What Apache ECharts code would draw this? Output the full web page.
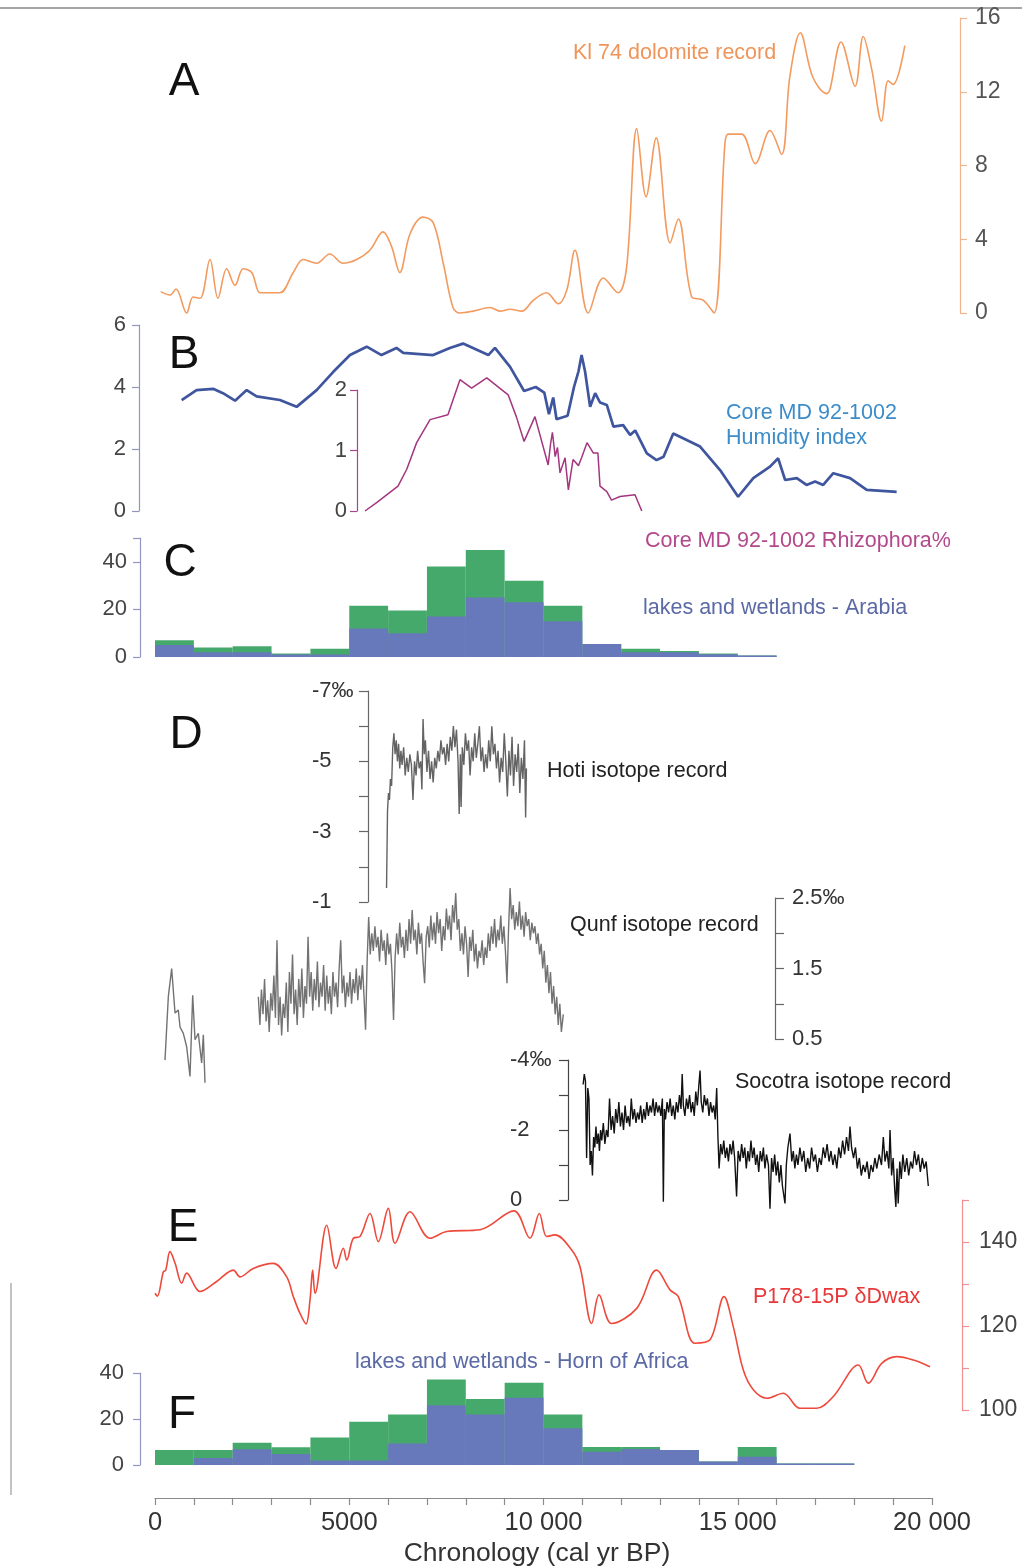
<!DOCTYPE html>
<html><head><meta charset="utf-8">
<script src="https://cdn.jsdelivr.net/npm/echarts@6/dist/echarts.min.js"></script>
<style>html,body{margin:0;padding:0;background:#fff}#c{width:1022px;height:1566px}</style>
</head><body><div id="c"></div>
<script>
// ---------- DATA ----------
const dolomite = [[147,1.16],[386,0.98],[540,1.3],[815,0.0],[980,0.87],[1160,0.8],[1415,2.9],[1620,0.8],[1845,2.4],[2060,1.5],[2270,2.4],[2490,2.2],[2700,1.1],[2875,1.1],[3215,1.1],[3560,2.2],[3815,2.9],[4160,2.7],[4500,3.2],[4840,2.7],[5190,2.9],[5530,3.4],[5870,4.4],[6090,3.6],[6300,2.2],[6565,4.3],[6900,5.2],[7160,4.9],[7420,2.7],[7670,0.3],[7850,0.0],[8190,0.1],[8620,0.3],[8880,0.1],[9140,0.2],[9440,0.1],[9740,0.7],[10080,1.1],[10380,0.5],[10600,1.25],[10810,3.4],[11150,0.0],[11540,1.9],[11920,1.1],[12140,2.5],[12400,10.0],[12640,6.3],[12900,9.5],[13260,3.8],[13470,5.1],[13810,0.9],[14110,0.7],[14390,0.0],[14670,9.2],[14760,9.7],[15100,9.7],[15450,8.1],[15830,9.9],[16130,8.6],[16340,12.8],[16610,15.2],[16930,12.8],[17290,11.9],[17370,12.1],[17660,14.7],[18020,12.3],[18230,15.0],[18450,13.2],[18700,10.4],[18870,12.6],[19000,12.4],[19300,14.5]];

const humidity = [[686,3.58],[1070,3.9],[1495,3.94],[1750,3.8],[2060,3.56],[2360,3.9],[2615,3.7],[3215,3.58],[3645,3.36],[4160,3.9],[4590,4.49],[5020,5.03],[5450,5.3],[5830,5.03],[6215,5.26],[6390,5.1],[7160,5.03],[7590,5.26],[7930,5.4],[8580,5.03],[8750,5.26],[9140,4.65],[9500,3.87],[9800,4.0],[10020,3.82],[10140,3.12],[10250,3.66],[10335,2.96],[10620,3.07],[10785,4.0],[10900,4.5],[10980,5.03],[11070,4.5],[11200,3.36],[11330,3.8],[11455,3.5],[11630,3.42],[11800,2.72],[12050,2.77],[12230,2.45],[12360,2.6],[12660,1.86],[12910,1.64],[13090,1.75],[13340,2.5],[14030,2.08],[14545,1.32],[15010,0.46],[15400,1.06],[15830,1.43],[16040,1.7],[16220,1.0],[16520,1.06],[16770,0.84],[16990,0.95],[17200,0.84],[17460,1.22],[17890,1.06],[18320,0.68],[19090,0.62]];

const rhizophora = [[5405,0],[5705,0.14],[6255,0.41],[6480,0.69],[6735,1.13],[7080,1.51],[7540,1.59],[7850,2.17],[8150,2.03],[8540,2.2],[9090,1.92],[9300,1.56],[9500,1.15],[9780,1.56],[10120,0.76],[10180,1.1],[10230,1.3],[10300,0.9],[10360,1.05],[10425,0.63],[10555,0.88],[10640,0.35],[10760,0.85],[10900,0.75],[10980,0.88],[11120,1.13],[11280,0.96],[11400,0.96],[11455,0.41],[11630,0.32],[11750,0.18],[11970,0.24],[12355,0.27],[12530,0]];

const arabiaBins = [500,1500,2500,3500,4500,5500,6500,7500,8500,9500,10500,11500,12500,13500,14500,15500];
const arabiaTotal = [7,4,4.5,1.5,3.5,21.5,19.5,38,45,32,21.5,5.5,3.5,2.5,1.5,0.6];
const arabiaBlue = [5,2,2,1,1,12,10,17,25,23,15,5.5,2,2,1.2,0.6];

const hoti = [[5960,-1.4],[5985,-3.6],[6010,-4.1],[6035,-3.9],[6060,-4.5],[6090,-4.3],[6120,-5.4],[6150,-5.8],[6180,-5.2],[6210,-5.6],[6240,-5.0],[6270,-5.5],[6300,-4.8],[6330,-5.3],[6360,-4.9],[6400,-5.4],[6440,-4.6],[6480,-5.1],[6520,-4.7],[6560,-5.2],[6600,-4.9],[6640,-3.9],[6680,-5.0],[6720,-4.6],[6760,-5.3],[6800,-4.8],[6840,-5.0],[6870,-4.2],[6900,-6.2],[6930,-5.2],[6960,-5.6],[7000,-4.7],[7040,-5.3],[7080,-4.5],[7120,-5.0],[7160,-4.4],[7200,-5.1],[7240,-4.8],[7280,-5.3],[7320,-5.0],[7360,-5.6],[7400,-5.2],[7440,-5.4],[7480,-4.9],[7520,-5.5],[7560,-5.0],[7600,-5.7],[7640,-5.3],[7680,-6.0],[7720,-5.4],[7760,-5.9],[7800,-5.0],[7830,-3.5],[7860,-5.2],[7880,-3.7],[7910,-5.4],[7950,-4.9],[7990,-5.8],[8030,-5.3],[8070,-5.6],[8110,-4.6],[8150,-5.4],[8190,-5.0],[8230,-5.8],[8270,-5.1],[8310,-5.5],[8350,-6.0],[8390,-5.0],[8430,-5.4],[8470,-4.7],[8510,-5.2],[8550,-4.8],[8590,-5.6],[8630,-5.0],[8670,-6.0],[8710,-5.2],[8750,-5.5],[8790,-4.8],[8830,-5.3],[8870,-4.4],[8910,-5.1],[8950,-4.7],[8990,-5.8],[9030,-5.0],[9070,-4.0],[9110,-5.3],[9150,-4.6],[9190,-5.7],[9230,-4.3],[9270,-5.2],[9310,-4.7],[9350,-5.5],[9390,-4.1],[9430,-5.1],[9470,-4.5],[9510,-5.6],[9540,-3.4],[9560,-4.8]];

const qunfEarly = [[257,0.2],[343,1.1],[429,1.5],[515,0.87],[600,0.91],[644,0.67],[729,0.58],[815,0.39],[901,-0.03],[970,1.12],[1030,0.49],[1115,0.58],[1201,0.16],[1244,0.56],[1287,-0.12]];

const qunfLate = [[2660,1.10],[2700,0.70],[2740,1.20],[2780,0.85],[2820,1.35],[2860,0.75],[2900,1.05],[2940,0.60],[2980,1.15],[3020,0.90],[3060,1.40],[3100,0.80],[3140,1.90],[3180,0.70],[3220,1.10],[3260,0.55],[3300,1.00],[3340,0.80],[3380,1.30],[3420,0.60],[3460,1.45],[3500,1.00],[3540,1.70],[3580,0.85],[3620,1.20],[3660,0.70],[3700,1.35],[3740,0.95],[3780,1.50],[3820,0.80],[3860,1.25],[3900,1.00],[3940,1.95],[3980,1.10],[4020,1.45],[4060,0.90],[4100,1.35],[4140,1.05],[4180,1.60],[4220,0.95],[4260,1.30],[4300,1.10],[4340,1.55],[4380,0.90],[4420,1.40],[4460,1.00],[4500,1.25],[4540,0.85],[4580,1.45],[4620,1.10],[4660,1.30],[4700,0.95],[4740,1.50],[4780,1.90],[4820,1.15],[4860,1.40],[4900,0.95],[4940,1.30],[4980,1.10],[5020,1.45],[5060,1.00],[5100,1.35],[5140,1.15],[5180,1.50],[5220,1.05],[5260,1.40],[5300,1.20],[5340,1.55],[5380,1.10],[5420,0.63],[5460,1.60],[5500,2.23],[5540,1.70],[5580,2.00],[5620,1.75],[5660,2.10],[5700,1.80],[5740,1.95],[5780,1.60],[5820,2.05],[5860,1.75],[5900,1.90],[5940,1.55],[5980,2.00],[6020,1.70],[6060,1.85],[6100,1.45],[6140,0.77],[6180,1.65],[6220,2.00],[6260,1.70],[6300,2.15],[6340,1.80],[6380,1.95],[6420,1.65],[6460,2.05],[6500,1.75],[6540,2.20],[6580,1.85],[6620,2.33],[6660,1.90],[6700,2.05],[6740,1.70],[6780,2.15],[6820,1.85],[6860,2.00],[6900,1.60],[6940,1.29],[6980,1.95],[7020,2.10],[7060,1.80],[7100,2.25],[7140,1.90],[7180,2.15],[7220,1.85],[7260,2.30],[7300,2.00],[7340,2.20],[7380,1.75],[7420,2.10],[7460,1.90],[7500,2.35],[7540,2.05],[7580,2.25],[7620,1.90],[7660,2.40],[7700,2.15],[7740,2.57],[7780,2.05],[7820,2.20],[7860,1.75],[7900,2.00],[7940,1.70],[7980,2.10],[8020,1.85],[8060,1.38],[8100,1.95],[8140,1.75],[8180,2.05],[8220,1.60],[8260,1.85],[8300,1.50],[8340,1.75],[8380,1.65],[8420,1.90],[8460,1.55],[8500,1.80],[8540,1.65],[8580,2.00],[8620,1.75],[8660,2.10],[8700,1.85],[8740,2.20],[8780,1.80],[8820,2.05],[8860,1.90],[8900,2.25],[8940,1.85],[8980,2.10],[9020,1.75],[9060,1.29],[9100,2.05],[9140,2.64],[9180,2.20],[9220,2.40],[9260,2.05],[9300,2.30],[9340,2.10],[9380,2.45],[9420,2.05],[9460,2.25],[9500,1.95],[9540,2.30],[9580,2.10],[9620,2.20],[9660,1.90],[9700,2.15],[9740,2.00],[9780,2.10],[9820,1.85],[9860,2.00],[9900,1.70],[9940,1.85],[9980,1.50],[10020,1.75],[10060,1.30],[10100,1.55],[10140,1.15],[10180,1.45],[10220,1.00],[10260,1.25],[10300,0.85],[10340,1.10],[10380,0.70],[10420,1.00],[10460,0.60],[10510,0.85]];

const socotra = [[11020,-3.3],[11050,-3.6],[11080,-3.4],[11110,-1.2],[11140,-3.2],[11170,-2.9],[11200,-1.0],[11230,-1.4],[11260,-0.7],[11290,-1.8],[11320,-1.5],[11350,-2.1],[11380,-1.6],[11410,-1.9],[11440,-1.4],[11470,-2.0],[11500,-1.7],[11540,-2.2],[11580,-1.6],[11620,-2.0],[11660,-1.8],[11700,-2.9],[11740,-2.0],[11780,-2.4],[11820,-1.9],[11860,-2.6],[11900,-2.2],[11940,-2.8],[11980,-2.1],[12020,-2.5],[12060,-2.0],[12100,-2.7],[12140,-2.2],[12180,-2.4],[12220,-2.1],[12260,-2.9],[12300,-2.3],[12340,-2.6],[12380,-2.2],[12420,-2.5],[12460,-2.3],[12500,-2.7],[12540,-2.2],[12580,-2.6],[12620,-2.3],[12660,-2.8],[12700,-2.4],[12740,-2.7],[12780,-2.5],[12820,-2.9],[12860,-2.4],[12900,-2.8],[12940,-2.5],[12980,-2.7],[13020,-2.4],[13060,-2.9],[13085,0.05],[13110,-2.6],[13140,-2.3],[13180,-2.8],[13220,-2.5],[13260,-2.9],[13300,-2.4],[13340,-2.7],[13380,-2.3],[13420,-2.8],[13460,-2.5],[13500,-3.0],[13540,-2.6],[13570,-3.6],[13600,-2.7],[13640,-2.4],[13680,-2.9],[13720,-2.6],[13760,-3.0],[13800,-2.5],[13840,-2.8],[13880,-2.4],[13920,-3.1],[13960,-2.7],[14000,-3.3],[14030,-3.7],[14060,-2.8],[14100,-2.5],[14140,-3.0],[14180,-2.7],[14220,-2.9],[14260,-2.4],[14300,-2.8],[14340,-2.5],[14380,-2.7],[14420,-2.3],[14458,-3.2],[14490,-1.8],[14520,-0.9],[14560,-1.6],[14600,-1.3],[14640,-1.7],[14680,-1.2],[14720,-1.5],[14760,-1.1],[14800,-1.6],[14840,-1.3],[14880,-1.7],[14920,-1.2],[14970,-0.1],[15010,-1.4],[15060,-1.1],[15100,-1.6],[15140,-1.2],[15180,-1.5],[15220,-0.9],[15260,-1.4],[15300,-1.1],[15340,-1.7],[15380,-1.2],[15420,-1.5],[15460,-1.0],[15500,-1.3],[15540,-0.8],[15580,-1.4],[15620,-1.1],[15660,-1.5],[15700,-0.9],[15740,-1.3],[15790,-1.0],[15830,0.25],[15870,-1.2],[15910,-0.8],[15950,-1.3],[15990,-0.7],[16030,-1.1],[16070,-0.5],[16110,-1.0],[16150,-0.4],[16216,0.1],[16250,-1.0],[16290,-1.5],[16345,-1.9],[16390,-1.1],[16430,-1.4],[16470,-0.9],[16510,-1.3],[16550,-1.0],[16600,-1.5],[16650,-1.1],[16700,-1.4],[16750,-0.8],[16800,-1.2],[16850,-0.9],[16900,-1.5],[16950,-1.1],[17000,-1.3],[17050,-0.8],[17100,-1.2],[17150,-1.0],[17200,-1.5],[17250,-1.2],[17300,-1.6],[17350,-1.1],[17400,-1.4],[17450,-1.0],[17500,-1.3],[17550,-0.9],[17600,-1.5],[17650,-1.2],[17700,-1.7],[17750,-1.3],[17800,-1.8],[17850,-1.4],[17889,-2.1],[17930,-1.5],[17980,-1.2],[18030,-1.5],[18080,-0.9],[18130,-1.2],[18180,-0.7],[18230,-1.0],[18280,-0.8],[18330,-1.1],[18380,-0.6],[18430,-1.0],[18480,-0.8],[18530,-1.2],[18580,-0.9],[18640,-1.3],[18700,-1.0],[18747,-1.8],[18790,-1.1],[18840,-1.4],[18890,-0.9],[18920,-2.0],[18960,-0.7],[19000,-1.2],[19040,-0.3],[19070,0.2],[19100,-0.9],[19130,0.1],[19170,-1.1],[19210,-0.6],[19250,-1.3],[19300,-0.8],[19350,-1.2],[19400,-0.7],[19450,-1.1],[19500,-0.9],[19550,-1.4],[19600,-1.0],[19650,-1.3],[19700,-0.8],[19750,-1.2],[19800,-0.9],[19850,-1.1],[19905,-0.4]];

const dDwax = [[0,127.8],[60,127.1],[215,132.9],[275,133.3],[386,137.7],[515,135],[687,130.2],[815,132.6],[1158,128.2],[1588,130.6],[2016,133.3],[2188,131.7],[2530,133.7],[3045,134.9],[3390,131.7],[3560,127],[3732,123],[3887,120.5],[3990,126.2],[4058,133.3],[4118,127.8],[4420,144],[4660,133.7],[4848,138.5],[4934,135.7],[5105,140.9],[5277,141.3],[5534,146.8],[5748,140.1],[6005,148],[6178,139.7],[6564,147.2],[7079,140.9],[7508,142.5],[8365,142.9],[9240,147.4],[9652,140.9],[9893,146.8],[10082,141.3],[10296,141.7],[10726,138.1],[10940,134.1],[11240,120.6],[11430,127.4],[11755,120.6],[12400,124.2],[12913,133.3],[13256,128.6],[13470,127],[13900,115.9],[14286,116.7],[14646,127],[14886,119.8],[15143,109.5],[15400,104.8],[15745,102.8],[16172,104],[16602,100.4],[17031,100.4],[17460,103.2],[18104,110.7],[18361,106.4],[18705,111.1],[19090,112.7],[19520,111.9],[19948,110.3]];

const hornBins = [500,1500,2500,3500,4500,5500,6500,7500,8500,9500,10500,11500,12500,13500,14500,15500,16500,17500];
const hornTotal = [6.5,6.5,9.7,7.7,12,18.8,22,37.2,28.7,35.8,22,7.8,7.8,6.5,1.5,7.8,0.6,0.6];
const hornBlue = [0,3,6.8,4.8,2,2,9.4,26,22,29.2,16,5.8,7,6.5,1.5,3.6,0.6,0.6];

const xTickLabels = [0,5000,10000,15000,20000];

// ---------- CHART ----------
const chart = echarts.init(document.getElementById('c'), null, {renderer:'canvas'});
const L = 155, W = 777, FONT = '"Liberation Sans", Arial, sans-serif';
const GREEN = '#46a96c', BLUE = '#6779ba';
function grid(top, height){ return {left:L, width:W, top:top, height:height, containLabel:false, outerBoundsMode:'none'}; }
const grids = [grid(18,295), grid(325,186), grid(390,121), grid(538,119), grid(691,211), grid(898,141), grid(1060,140), grid(1200,210), grid(1373,92)];

const xAxes = grids.map((g,i)=>({type:'value', gridIndex:i, min:0, max:20000, show:false}));
xAxes[8] = {type:'value', gridIndex:8, min:0, max:20000, interval:1000, position:'bottom', offset:33,
  axisLine:{show:true, onZero:false, lineStyle:{color:'#8a8a8a', width:1.2}},
  axisTick:{show:true, length:7, lineStyle:{color:'#8a8a8a', width:1.2}},
  splitLine:{show:false},
  axisLabel:{customValues:xTickLabels, margin:12, color:'#333', fontSize:25.5, fontFamily:FONT,
    formatter:v=> v>=10000 ? (v/1000)+' 000' : String(v)}};

function yax(gi, o){
  const col = o.color;
  return {type:'value', gridIndex:gi, min:o.min, max:o.max, inverse:!!o.inverse, position:o.position||'left', offset:o.offset||0,
    splitLine:{show:false},
    axisLine:{show:true, onZero:false, lineStyle:{color:col, width:1.2}},
    axisTick:{show:true, length:o.tickLen||7, customValues:o.ticks, lineStyle:{color:col, width:1.2}},
    axisLabel:{customValues:o.labels, color:o.labelColor||'#444', fontSize:o.fontSize||22, fontFamily:FONT, margin:o.margin||12,
      align:o.align||undefined, formatter:o.fmt||(v=>String(v))}};
}
const yAxes = [
  yax(0,{min:0,max:16,position:'right',offset:28,color:'#f2b48c',ticks:[0,4,8,12,16],labels:[0,4,8,12,16],labelColor:'#555',fontSize:23,margin:15}),
  yax(1,{min:0,max:6,offset:16,color:'#9396b8',ticks:[0,2,4,6],labels:[0,2,4,6],labelColor:'#444',margin:13}),
  yax(2,{min:0,max:2,offset:-202,color:'#a8458a',ticks:[0,1,2],labels:[0,1,2],labelColor:'#444',margin:10}),
  yax(3,{min:0,max:50,offset:15,color:'#9396c4',ticks:[0,20,40,50],labels:[0,20,40],labelColor:'#444',margin:13}),
  yax(4,{min:-7,max:-1,inverse:true,offset:-213,color:'#666',tickLen:9,ticks:[-7,-6,-5,-4,-3,-2,-1],labels:[-7,-5,-3,-1],labelColor:'#333',margin:56,align:'left',fmt:v=>v===-7?'-7‰':String(v)}),
  yax(5,{min:0.5,max:2.5,position:'right',offset:-157,color:'#666',tickLen:9,ticks:[0.5,1,1.5,2,2.5],labels:[0.5,1.5,2.5],labelColor:'#333',margin:17,fmt:v=>v===2.5?'2.5‰':String(v)}),
  yax(6,{min:-4,max:0,inverse:true,offset:-413,color:'#444',tickLen:9,ticks:[-4,-3,-2,-1,0],labels:[-4,-2,0],labelColor:'#333',margin:58,align:'left',fmt:v=>v===-4?'-4‰':String(v)}),
  yax(7,{min:100,max:150,position:'right',offset:30,color:'#f19090',ticks:[100,110,120,130,140,150],labels:[100,120,140],labelColor:'#444',fontSize:23,margin:17}),
  yax(8,{min:0,max:40,offset:15,color:'#9396c4',ticks:[0,20,40],labels:[0,20,40],labelColor:'#444',margin:16})
];

function line(ax, data, color, width, smooth){
  return {type:'line', xAxisIndex:ax, yAxisIndex:ax, data:data, symbol:'none', smooth:smooth||false, clip:false,
    lineStyle:{color:color, width:width}, silent:true, z:3};
}
const BW = W/20;
function bars(ax, bins, vals, color, z){
  return {type:'bar', xAxisIndex:ax, yAxisIndex:ax, data:bins.map((b,i)=>[b,vals[i]]), barWidth:BW, barGap:'-100%',
    itemStyle:{color:color}, silent:true, z:z};
}

const series = [
  line(0, dolomite, '#f39a5e', 1.6, 0.35),
  line(1, humidity, '#3f569e', 2.7, false),
  line(2, rhizophora, '#a3367f', 1.5, false),
  bars(3, arabiaBins, arabiaTotal, GREEN, 2),
  bars(3, arabiaBins, arabiaBlue, BLUE, 3),
  line(4, hoti, '#636363', 1.4, false),
  line(5, qunfEarly, '#727272', 1.4, false),
  line(5, qunfLate, '#727272', 1.4, false),
  line(6, socotra, '#111111', 1.4, false),
  line(7, dDwax, '#ee4a3c', 1.6, 0.35),
  bars(8, hornBins, hornTotal, GREEN, 2),
  bars(8, hornBins, hornBlue, BLUE, 3)
];

function txt(x,y,s,color,size,align){
  return {type:'text', x:x, y:y, style:{text:s, fill:color, font:(size||21.5)+'px '+FONT, textAlign:align||'left', textVerticalAlign:'middle'}, silent:true, z:10};
}
const graphic = [
  {type:'line', shape:{x1:0,y1:8,x2:1022,y2:8}, style:{stroke:'#888', lineWidth:1.5}, silent:true},
  {type:'line', shape:{x1:11,y1:1283,x2:11,y2:1495}, style:{stroke:'#999', lineWidth:1.2}, silent:true},
  txt(184,82,'A','#111',46,'center'),
  txt(184,355,'B','#111',46,'center'),
  txt(180,563,'C','#111',46,'center'),
  txt(186,735,'D','#111',46,'center'),
  txt(183,1228,'E','#111',46,'center'),
  txt(182,1415,'F','#111',46,'center'),
  txt(573,53,'Kl 74 dolomite record','#f0955a'),
  txt(726,413,'Core MD 92-1002','#3b8cc9'),
  txt(726,438,'Humidity index','#3b8cc9'),
  txt(645,541,'Core MD 92-1002 Rhizophora%','#b3498b'),
  txt(643,608,'lakes and wetlands - Arabia','#5b6aa6'),
  txt(547,771,'Hoti isotope record','#222'),
  txt(570,925,'Qunf isotope record','#222'),
  txt(735,1082,'Socotra isotope record','#222'),
  txt(753,1297,'P178-15P \u03b4Dwax','#e8383a'),
  txt(355,1362,'lakes and wetlands - Horn of Africa','#5b6aa6'),
  txt(537,1554,'Chronology (cal yr BP)','#333',26.5,'center')
];

chart.setOption({animation:false, backgroundColor:'#fff', grid:grids, xAxis:xAxes, yAxis:yAxes, series:series, graphic:graphic});
</script></body></html>
